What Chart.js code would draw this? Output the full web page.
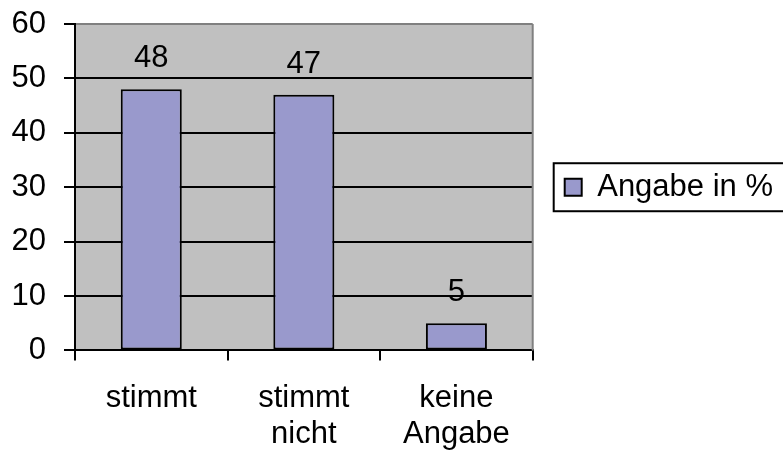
<!DOCTYPE html>
<html>
<head>
<meta charset="utf-8">
<script src="https://cdn.jsdelivr.net/npm/chart.js@4/dist/chart.umd.min.js"></script>
<style>
  html, body { margin: 0; padding: 0; background: #fff; }
  #wrap { width: 783px; height: 458px; }
</style>
</head>
<body>
<div id="wrap"><canvas id="chart" width="783" height="458"></canvas></div>
<script>
// data
const categories = [["stimmt"], ["stimmt", "nicht"], ["keine", "Angabe"]];
const values = [48, 47, 5];
const seriesName = "Angabe in %";
const yTicks = [0, 10, 20, 30, 40, 50, 60];

const FONT = "'Liberation Sans', Arial, sans-serif";
const FS = 31;

// grey plot area with grey top/right border
const plotBackground = {
    id: "plotBackground",
    beforeDraw(chart) {
        const { ctx, chartArea: a } = chart;
        ctx.save();
        ctx.fillStyle = "#c0c0c0";
        ctx.fillRect(a.left, a.top, a.right - a.left, a.bottom - a.top);
        ctx.restore();
    },
    afterDraw(chart) {
        const { ctx, chartArea: a } = chart;
        ctx.save();
        ctx.strokeStyle = "#808080";
        ctx.lineWidth = 2;
        ctx.beginPath();
        ctx.moveTo(a.right, a.top);
        ctx.lineTo(a.right, a.bottom);
        ctx.stroke();
        ctx.restore();

        // frame round the legend
        const box = chart.legend.legendHitBoxes[0];
        if (box) {
            ctx.save();
            ctx.strokeStyle = "#000";
            ctx.lineWidth = 2;
            const cy = box.top + box.height / 2;
            ctx.strokeRect(box.left - 11, cy - 24, chart.width, 48);
            ctx.restore();
        }
    }
};

// value labels above the bars
const valueLabels = {
    id: "valueLabels",
    afterDatasetsDraw(chart) {
        const { ctx } = chart;
        const meta = chart.getDatasetMeta(0);
        ctx.save();
        ctx.font = FS + "px " + FONT;
        ctx.fillStyle = "#000";
        ctx.textAlign = "center";
        ctx.textBaseline = "alphabetic";
        meta.data.forEach((bar, i) => {
            ctx.fillText(String(values[i]), bar.x, bar.y - 22);
        });
        ctx.restore();
    }
};

const noPad = scale => {
    scale.paddingTop = 0;
    scale.paddingBottom = 0;
};

new Chart(document.getElementById("chart"), {
    type: "bar",
    data: {
        labels: categories,
        datasets: [{
            label: seriesName,
            data: values,
            backgroundColor: "#9999cc",
            borderColor: "#000",
            borderWidth: 2,
            borderSkipped: false,
            barPercentage: 0.4,
            categoryPercentage: 1
        }]
    },
    options: {
        responsive: false,
        animation: false,
        layout: { padding: { top: 24, left: -6.5, bottom: -15, right: 0 } },
        scales: {
            x: {
                afterFit: noPad,
                grid: {
                    offset: true,
                    drawOnChartArea: false,
                    color: "#000",
                    lineWidth: 2,
                    tickLength: 10
                },
                border: { color: "#000", width: 2 },
                ticks: {
                    color: "#000",
                    padding: 20,
                    font: { family: FONT, size: FS, lineHeight: 1.17 },
                    maxRotation: 0,
                    autoSkip: false
                }
            },
            y: {
                min: 0,
                max: 60,
                afterBuildTicks(scale) {
                    scale.ticks = yTicks.map(v => ({ value: v }));
                },
                afterFit: noPad,
                grid: {
                    color: c => (c.tick && c.tick.value === 60 ? "#808080" : "#000"),
                    tickColor: "#000",
                    lineWidth: 2,
                    tickLength: 11
                },
                border: { color: "#000", width: 2 },
                ticks: {
                    color: "#000",
                    padding: 18,
                    font: { family: FONT, size: FS }
                }
            }
        },
        plugins: {
            tooltip: { enabled: false },
            legend: {
                position: "right",
                fullSize: false,
                maxWidth: 400,
                labels: {
                    color: "#000",
                    font: { family: FONT, size: FS },
                    boxWidth: 17,
                    boxHeight: 17,
                    padding: 32,
                    generateLabels(chart) {
                        const ds = chart.data.datasets[0];
                        return [{
                            text: ds.label,
                            fillStyle: ds.backgroundColor,
                            strokeStyle: "#000",
                            lineWidth: 2,
                            datasetIndex: 0
                        }];
                    }
                }
            }
        }
    },
    plugins: [plotBackground, valueLabels]
});
</script>
</body>
</html>
